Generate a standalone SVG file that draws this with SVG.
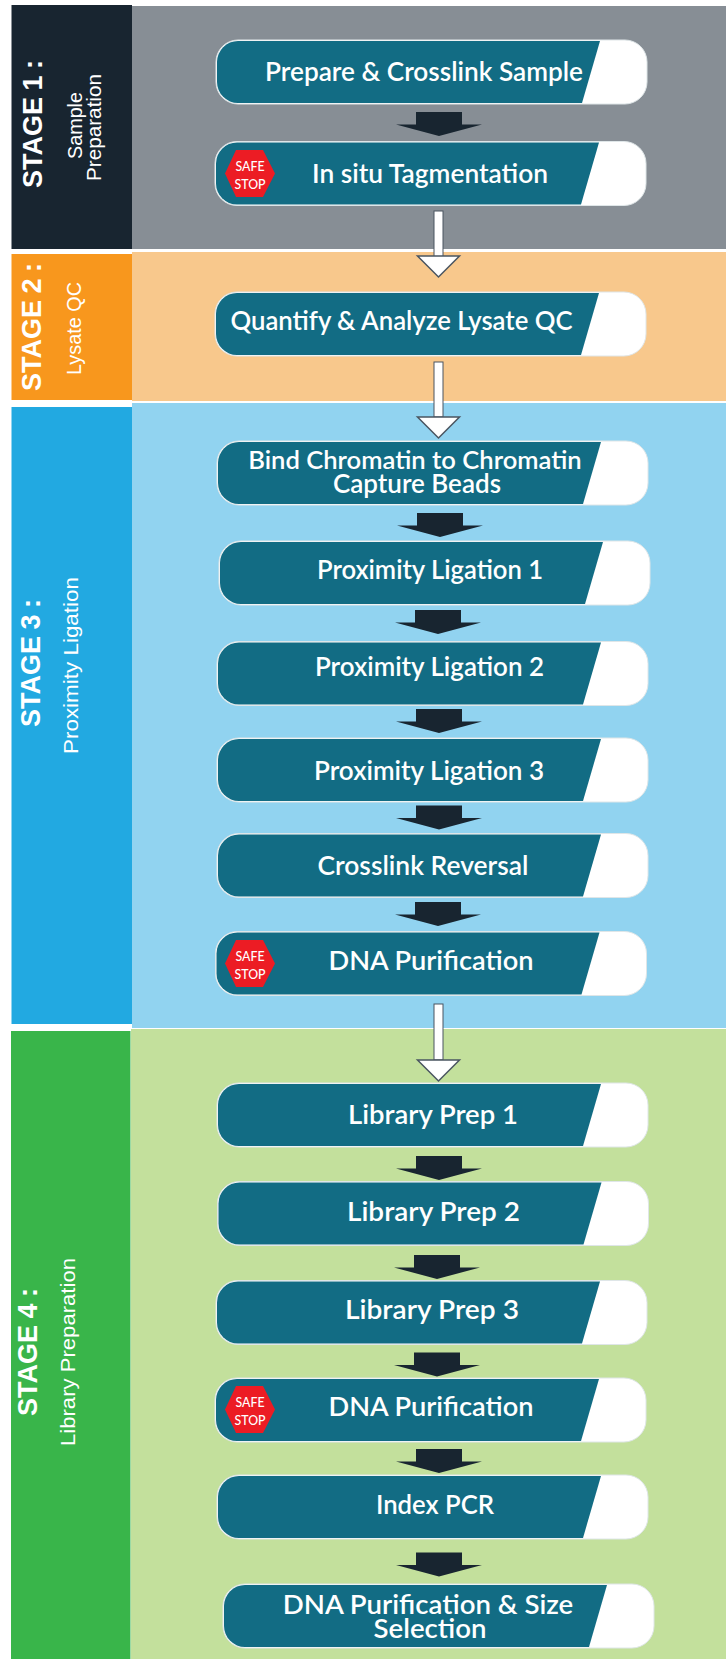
<svg xmlns="http://www.w3.org/2000/svg" width="726" height="1659" viewBox="0 0 726 1659">
<defs>
<style>
.n{font:600 26px Lato,"Liberation Sans",sans-serif;fill:#fff;text-anchor:middle;transform:translateY(1px)}
.st{font:bold 27px "Liberation Sans",Arial,sans-serif;word-spacing:-1px;fill:#fff}
.sb{font:20px "Liberation Sans",Arial,sans-serif;fill:#fff}
.ss{font:500 14px Lato,"Liberation Sans",sans-serif;fill:#fff;text-anchor:middle}
.sh{fill:#fff;stroke:#4a5560;stroke-width:1}
</style>
<g id="node-shape">
<rect x="0" y="0" width="431" height="64" rx="22" fill="#fff" stroke="#dfe6e8" stroke-width="1"/>
<path d="M384 1H22A21 21 0 0 0 1 22V42A21 21 0 0 0 22 63H366Z" fill="#126c84"/>
</g>
<g id="safe">
<path d="M11 0H38L50 23.500L38 47H11L0 23.500Z" fill="#ec1c24"/>
<text class="ss" x="25" y="21" textLength="29" lengthAdjust="spacingAndGlyphs">SAFE</text>
<text class="ss" x="25" y="39" textLength="31" lengthAdjust="spacingAndGlyphs">STOP</text>
</g>
<path id="dark" d="M-23 0H23V12.500L43 12.500L0 24L-43 12.500L-23 12.500Z" fill="#182530"/>
<path id="head" d="M-21 0H21L0 21Z" fill="#fff" stroke="#4a5560" stroke-width="1.500" stroke-linejoin="miter"/>
</defs>
<rect width="726" height="1659" fill="#fff"/>
<g id="stage1"><rect x="132" y="6" width="594" height="243" fill="#878e95"/><rect x="11.500" y="5" width="120.500" height="244" fill="#182530"/>
<text class="st" transform="translate(42 188) rotate(-90)">STAGE 1 :</text><text class="sb" transform="translate(82 159) rotate(-90)" textLength="67" lengthAdjust="spacingAndGlyphs">Sample</text><text class="sb" transform="translate(101 181) rotate(-90)" textLength="107" lengthAdjust="spacingAndGlyphs">Preparation</text></g>
<g id="stage2"><rect x="132" y="252" width="594" height="149" fill="#f8c88c"/><rect x="11.500" y="254" width="120.500" height="146" fill="#f8971d"/>
<text class="st" transform="translate(41 391) rotate(-90)">STAGE 2 :</text><text class="sb" transform="translate(81 375) rotate(-90)" textLength="93" lengthAdjust="spacingAndGlyphs">Lysate QC</text></g>
<g id="stage3"><rect x="132" y="403" width="594" height="625" fill="#91d3f0"/><rect x="11.500" y="407" width="120.500" height="617" fill="#22a9e1"/>
<text class="st" transform="translate(40 727) rotate(-90)">STAGE 3 :</text><text class="sb" transform="translate(78 754) rotate(-90)" textLength="177" lengthAdjust="spacingAndGlyphs">Proximity Ligation</text></g>
<g id="stage4"><rect x="131" y="1029" width="595" height="630" fill="#c3e09c"/><rect x="11" y="1031" width="119.500" height="628" fill="#39b54a"/>
<text class="st" transform="translate(37 1416) rotate(-90)">STAGE 4 :</text><text class="sb" transform="translate(74.500 1446) rotate(-90)" textLength="188" lengthAdjust="spacingAndGlyphs">Library Preparation</text></g>
<g id="connectors">
<use href="#dark" x="439" y="112"/>
<rect class="sh" x="434" y="211" width="9" height="46"/><use href="#head" x="438.500" y="256"/>
<rect class="sh" x="434" y="362" width="9" height="55"/><use href="#head" x="438.500" y="417"/>
<use href="#dark" x="440" y="513"/>
<use href="#dark" x="438" y="610"/>
<use href="#dark" x="439" y="709"/>
<use href="#dark" x="439" y="805.500"/>
<use href="#dark" x="438" y="902"/>
<rect class="sh" x="434" y="1004" width="9" height="56"/><use href="#head" x="438.500" y="1060"/>
<use href="#dark" x="439" y="1156"/>
<use href="#dark" x="437" y="1255"/>
<use href="#dark" x="437" y="1352.500"/>
<use href="#dark" x="439" y="1449"/>
<use href="#dark" x="439" y="1552.500"/>
</g>
<g id="n1"><use href="#node-shape" x="216" y="40"/><text class="n" x="424" y="80" textLength="318" lengthAdjust="spacingAndGlyphs">Prepare &amp; Crosslink Sample</text></g>
<g id="n2"><use href="#node-shape" x="215" y="141.500"/><use href="#safe" x="225" y="150"/><text class="n" x="430" y="182" textLength="236" lengthAdjust="spacingAndGlyphs">In situ Tagmentation</text></g>
<g id="n3"><use href="#node-shape" x="215" y="292"/><text class="n" x="401.500" y="329" textLength="342" lengthAdjust="spacingAndGlyphs">Quantify &amp; Analyze Lysate QC</text></g>
<g id="n4"><use href="#node-shape" x="217" y="441"/><text class="n"><tspan x="415" y="468" font-size="25.600">Bind Chromatin to Chromatin</tspan><tspan x="417" y="492">Capture Beads</tspan></text></g>
<g id="n5"><use href="#node-shape" x="219" y="541"/><text class="n" x="430" y="578" textLength="226" lengthAdjust="spacingAndGlyphs">Proximity Ligation 1</text></g>
<g id="n6"><use href="#node-shape" x="217" y="641.500"/><text class="n" x="429.500" y="675" textLength="229" lengthAdjust="spacingAndGlyphs">Proximity Ligation 2</text></g>
<g id="n7"><use href="#node-shape" x="217" y="738"/><text class="n" x="429" y="779" textLength="230" lengthAdjust="spacingAndGlyphs">Proximity Ligation 3</text></g>
<g id="n8"><use href="#node-shape" x="217" y="833.500"/><text class="n" x="423" y="874" textLength="211" lengthAdjust="spacingAndGlyphs">Crosslink Reversal</text></g>
<g id="n9"><use href="#node-shape" x="215.500" y="931.500"/><use href="#safe" x="225" y="940"/><text class="n" x="431" y="969" textLength="205" lengthAdjust="spacingAndGlyphs">DNA Purification</text></g>
<g id="n10"><use href="#node-shape" x="217" y="1083"/><text class="n" x="433" y="1123" textLength="170" lengthAdjust="spacingAndGlyphs">Library Prep 1</text></g>
<g id="n11"><use href="#node-shape" x="217.500" y="1181.500"/><text class="n" x="433.500" y="1220" textLength="173" lengthAdjust="spacingAndGlyphs">Library Prep 2</text></g>
<g id="n12"><use href="#node-shape" x="216" y="1280.500"/><text class="n" x="432" y="1318" textLength="174" lengthAdjust="spacingAndGlyphs">Library Prep 3</text></g>
<g id="n13"><use href="#node-shape" x="215" y="1378"/><use href="#safe" x="225" y="1386"/><text class="n" x="431" y="1415" textLength="205" lengthAdjust="spacingAndGlyphs">DNA Purification</text></g>
<g id="n14"><use href="#node-shape" x="217" y="1475"/><text class="n" x="435" y="1513" textLength="118" lengthAdjust="spacingAndGlyphs">Index PCR</text></g>
<g id="n15"><use href="#node-shape" x="223" y="1584"/><text class="n" font-size="27.600"><tspan x="428" y="1612.500" font-size="27.600">DNA Purification &amp; Size</tspan><tspan x="430" y="1636.500" font-size="27.600">Selection</tspan></text></g>
</svg>
